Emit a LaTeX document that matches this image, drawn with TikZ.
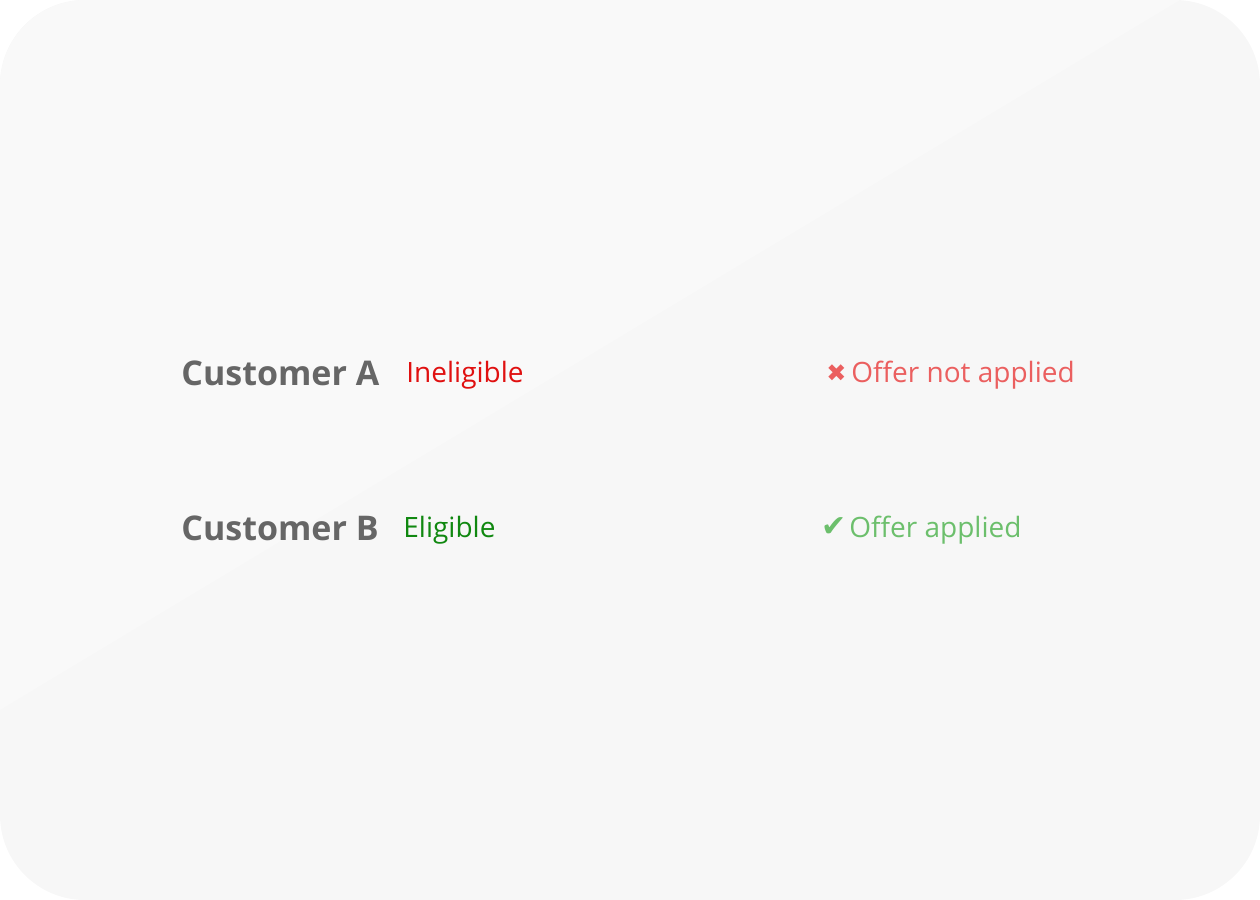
\documentclass[tikz,border=0pt]{standalone}
\usepackage{fontspec}
\setmainfont{Open Sans}
\newfontfamily\symfont{DejaVu Sans}

\definecolor{bgupper}{HTML}{F9F9F9}
\definecolor{bglower}{HTML}{F7F7F7}
\definecolor{custgray}{HTML}{666666}
\definecolor{inelred}{HTML}{E01010}
\definecolor{notred}{HTML}{EB5F5F}
\definecolor{eliggreen}{HTML}{108810}
\definecolor{okgreen}{HTML}{6CBF6C}

\tikzset{
  customer/.style={anchor=base west, inner sep=0pt, text=custgray,
    font=\fontsize{17}{20}\selectfont\bfseries},
  status/.style={anchor=base west, inner sep=0pt,
    font=\fontsize{14}{17}\selectfont},
  icon/.style={anchor=base west, inner sep=0pt,
    font=\symfont\fontsize{12}{14}\selectfont}
}

\begin{document}
\begin{tikzpicture}[x=0.5pt,y=-0.5pt]
\useasboundingbox (0,0) rectangle (1260,900);

% Card background, split diagonally
\begin{scope}
  \clip[rounded corners=42.5pt] (0,0) rectangle (1260,900);
  \fill[bglower] (0,0) rectangle (1260,900);
  \fill[bgupper] (0,0) -- (1180,0) -- (0,710) -- cycle;
\end{scope}

% Customer A row
\node[customer] (custA) at (181,385) {Customer A};
\node[status, text=inelred] (statA) at (406,382) {Ineligible};
\node[icon, text=notred] (iconA) at (826,381) {✖};
\node[status, text=notred] (resA) at (851,382) {Offer not applied};

% Customer B row
\node[customer] (custB) at (181,540) {Customer B};
\node[status, text=eliggreen] (statB) at (403,537) {Eligible};
\node[icon, text=okgreen, font=\symfont\fontsize{15}{17}\selectfont] (iconB) at (821,536) {✔};
\node[status, text=okgreen] (resB) at (849,537) {Offer applied};

\end{tikzpicture}
\end{document}
